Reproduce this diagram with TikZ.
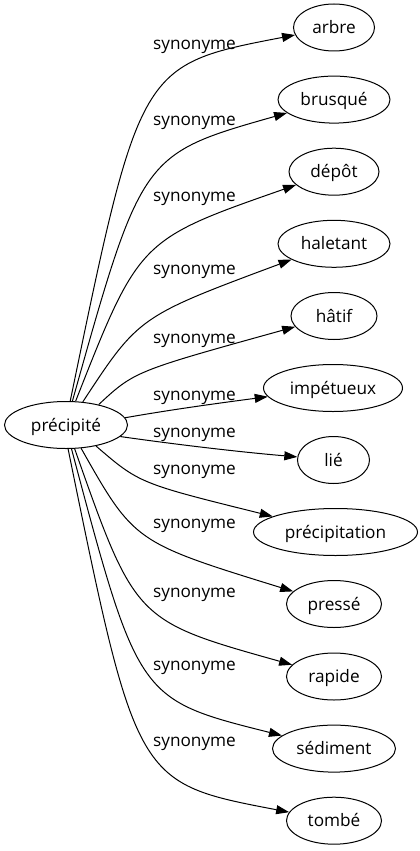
\documentclass[tikz,border=0pt]{standalone}
\usepackage{fontspec}
\setmainfont{Open Sans}
\usetikzlibrary{shapes.geometric,arrows.meta}
\newcommand{\lblfont}{\fontsize{17.2pt}{20pt}\selectfont}
\begin{document}
\begin{tikzpicture}[x=1pt,y=-1pt,
  nd/.style={ellipse,draw,line width=1pt,minimum height=47pt,inner sep=0pt,font=\lblfont,text height=16pt,text depth=4pt},
  edge/.style={-{Triangle[length=13pt,width=9pt]},line width=1pt},
  lab/.style={font=\lblfont,inner sep=0pt,anchor=base}]
\useasboundingbox (0,0) rectangle (420,851);
\node[nd,minimum width=123pt] (p) at (66,425) {précipité};
\node[nd,minimum width=81pt]  (n1)  at (334,27.5) {arbre};
\node[nd,minimum width=112pt] (n2)  at (334,99.6) {brusqué};
\node[nd,minimum width=90pt]  (n3)  at (334,171.7) {dépôt};
\node[nd,minimum width=112pt] (n4)  at (334,243.8) {haletant};
\node[nd,minimum width=86pt]  (n5)  at (334,316) {hâtif};
\node[nd,minimum width=139pt] (n6)  at (333,388) {impétueux};
\node[nd,minimum width=72pt]  (n7)  at (333.5,460) {lié};
\node[nd,minimum width=164pt] (n8)  at (335.5,532) {précipitation};
\node[nd,minimum width=95pt]  (n9)  at (334,604) {pressé};
\node[nd,minimum width=95pt]  (n10) at (334,676.5) {rapide};
\node[nd,minimum width=123pt] (n11) at (334,748.6) {sédiment};
\node[nd,minimum width=95pt]  (n12) at (334,820.7) {tombé};

\draw[edge] (p.80) .. controls (139.7,64.8) and (139.7,64.8) .. (n1);
\draw[edge] (p.75) .. controls (141.7,154.2) and (141.7,154.2) .. (n2);
\draw[edge] (p.68) .. controls (139.2,239.7) and (139.2,239.7) .. (n3);
\draw[edge] (p.54) .. controls (138.8,316.5) and (138.8,316.5) .. (n4);
\draw[edge] (p.32) .. controls (134.5,371.3) and (134.5,371.3) .. (n5);
\draw[edge] (p.7) .. controls (175,409) and (220,403) .. (n6);
\draw[edge] (p.-12) .. controls (180,445) and (240,452) .. (n7);
\draw[edge] (p.-35) .. controls (139.3,483.3) and (139.3,483.3) .. (n8);
\draw[edge] (p.-57) .. controls (134.3,542.3) and (134.3,542.3) .. (n9);
\draw[edge] (p.-70) .. controls (135.3,620.8) and (135.3,620.8) .. (n10);
\draw[edge] (p.-77) .. controls (138.3,699.5) and (138.3,699.5) .. (n11);
\draw[edge] (p.-85) .. controls (136.3,783) and (136.3,783) .. (n12);

\node[lab] (l1)  at (194.5,49.3)  {synonyme};
\node[lab] (l2)  at (194.5,125.3) {synonyme};
\node[lab] (l3)  at (194.5,201.3) {synonyme};
\node[lab] (l4)  at (194.5,274.3) {synonyme};
\node[lab] (l5)  at (194.5,343.3) {synonyme};
\node[lab] (l6)  at (194.5,400.3) {synonyme};
\node[lab] (l7)  at (194.5,437.3) {synonyme};
\node[lab] (l8)  at (194.5,474.3) {synonyme};
\node[lab] (l9)  at (194.5,528.3) {synonyme};
\node[lab] (l10) at (194.5,597.3) {synonyme};
\node[lab] (l11) at (194.5,670.3) {synonyme};
\node[lab] (l12) at (194.5,746.3) {synonyme};
\end{tikzpicture}
\end{document}
